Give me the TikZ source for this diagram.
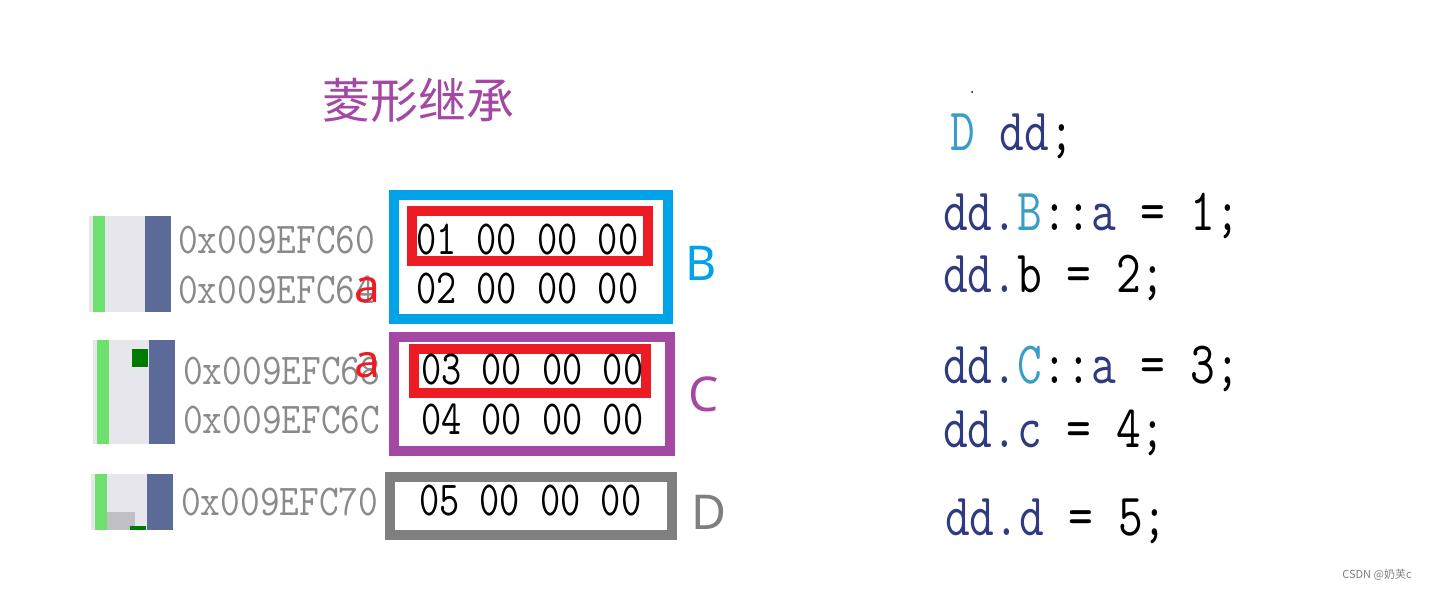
\documentclass[tikz,border=0pt]{standalone}
\usepackage{fontspec}
\usepackage{graphicx}
\newfontfamily\cjk{Noto Sans CJK SC}
\newfontfamily\lblsans{Noto Sans}
\definecolor{cblue}{HTML}{00A2E8}
\definecolor{cred}{HTML}{ED1C24}
\definecolor{cpurple}{HTML}{A349A4}
\definecolor{cgray}{HTML}{7F7F7F}
\definecolor{addrgray}{HTML}{8A8A8A}
\definecolor{barbg}{HTML}{E6E6EC}
\definecolor{bargreen}{HTML}{6EE06E}
\definecolor{bardark}{HTML}{5B6A96}
\definecolor{dkgreen}{HTML}{007A00}
\definecolor{lgray}{HTML}{C0C0C4}
\definecolor{navy}{HTML}{2F3A80}
\definecolor{teal}{HTML}{3A9CC8}
\newcommand\addrtxt[1]{\scalebox{0.87}[1]{\fontsize{44}{44}\selectfont\ttfamily #1}}
\newcommand\hextxt[1]{\scalebox{0.80}[1]{\fontsize{49}{49}\selectfont\ttfamily #1}}
\newcommand\codetxt[1]{\scalebox{0.80}[1]{\fontsize{60}{60}\selectfont\ttfamily #1}}
\tikzset{
  membox/.style={draw=#1, line width=10pt, inner sep=0pt, fill=none},
  addr/.style={anchor=base west, inner sep=0pt, text=addrgray},
  hex/.style={anchor=base west, inner sep=0pt, text=black},
  code/.style={anchor=base west, inner sep=0pt, text=black},
  lbl/.style={inner sep=0pt, font=\lblsans\fontsize{48}{48}\selectfont},
  reda/.style={inner sep=0pt, anchor=base, text=cred, font=\lblsans\fontsize{46}{46}\selectfont},
}
\begin{document}
\begin{tikzpicture}[x=1pt,y=-1pt]
\useasboundingbox (0,0) rectangle (1430,590);
\fill[white] (0,0) rectangle (1430,590);
% title
\node[inner sep=0pt, text=cpurple, font=\cjk\fontsize{48}{48}\selectfont] (title) at (418,100) {菱形继承};
% left bars
\fill[barbg] (89,216) rectangle (171,312);
\fill[bargreen] (93,216) rectangle (105,312);
\fill[bardark] (145,216) rectangle (171,312);
\fill[barbg] (93,340) rectangle (175,444);
\fill[bargreen] (97,340) rectangle (109,444);
\fill[bardark] (149,340) rectangle (175,444);
\fill[dkgreen] (132,349) rectangle (148,367);
\fill[barbg] (91,474) rectangle (173,530);
\fill[bargreen] (95,474) rectangle (107,530);
\fill[bardark] (147,474) rectangle (173,530);
\fill[lgray] (107,512) rectangle (135,530);
\fill[dkgreen] (130,526) rectangle (146,530);
% addresses
\node[addr] (ad1) at (178,253) {\addrtxt{0x009EFC60}};
\node[addr] (ad2) at (178,303) {\addrtxt{0x009EFC64}};
\node[addr] (ad3) at (183,384) {\addrtxt{0x009EFC68}};
\node[addr] (ad4) at (183,433) {\addrtxt{0x009EFC6C}};
\node[addr] (ad5) at (181,515) {\addrtxt{0x009EFC70}};
% boxes
\node[membox=cblue, minimum width=274pt, minimum height=124pt] (boxB) at (531,257) {};
\node[membox=cred, minimum width=236pt, minimum height=50pt] (redB) at (530,236) {};
\node[membox=cpurple, minimum width=276pt, minimum height=114pt] (boxC) at (532,394) {};
\node[membox=cred, minimum width=232pt, minimum height=44pt] (redC) at (530,371) {};
\node[membox=cgray, minimum width=282pt, minimum height=58pt] (boxD) at (531,506) {};
% hex rows
\node[hex] (h1) at (416,254) {\hextxt{01 00 00 00}};
\node[hex] (h2) at (416,303) {\hextxt{02 00 00 00}};
\node[hex] (h3) at (421,384) {\hextxt{03 00 00 00}};
\node[hex] (h4) at (421,434) {\hextxt{04 00 00 00}};
\node[hex] (h5) at (419,515) {\hextxt{05 00 00 00}};
% red a
\node[reda] (a1) at (367,302) {a};
\node[reda] (a2) at (367,377) {a};
% labels
\node[lbl, text=cblue] (lB) at (701,263) {B};
\node[lbl, text=cpurple] (lC) at (704,394) {C};
\node[lbl, text=cgray] (lD) at (709,512) {D};
% code
\fill[black] (972,92) circle (1pt);
\node[code] (c0) at (950,150) {\codetxt{{\color{teal}D} {\color{navy}dd};}};
\node[code] (c1) at (943,230) {\codetxt{{\color{navy}dd.}{\color{teal}B}::{\color{navy}a} = 1;}};
\node[code] (c2) at (943,292) {\codetxt{{\color{navy}dd.}b = 2;}};
\node[code] (c3) at (943,383) {\codetxt{{\color{navy}dd.}{\color{teal}C}::{\color{navy}a} = 3;}};
\node[code] (c4) at (943,447) {\codetxt{{\color{navy}dd.c} = 4;}};
\node[code] (c5) at (945,535) {\codetxt{{\color{navy}dd.d} = 5;}};
% watermark
\node[inner sep=0pt, text=gray, font=\cjk\fontsize{11}{11}\selectfont] (wm) at (1377,575) {CSDN @奶芙c};
\end{tikzpicture}
\end{document}
